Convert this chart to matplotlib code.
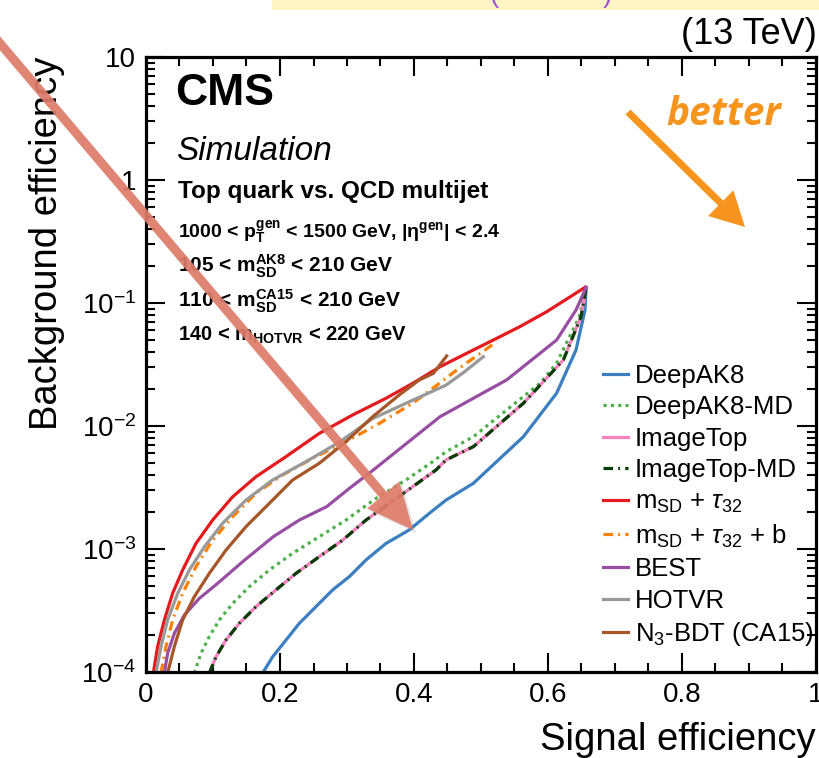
import matplotlib
matplotlib.use("Agg")
import matplotlib.pyplot as plt
from matplotlib.patches import FancyArrow, Rectangle
from matplotlib.transforms import IdentityTransform
from matplotlib.ticker import MultipleLocator, LogLocator, NullFormatter

plt.rcParams['font.family'] = ['Liberation Sans', 'DejaVu Sans']
plt.rcParams['mathtext.fontset'] = 'custom'
plt.rcParams['mathtext.rm'] = 'Liberation Sans'
plt.rcParams['mathtext.it'] = 'Liberation Sans:italic'
plt.rcParams['mathtext.bf'] = 'Liberation Sans:bold'

# ---------------- data (signal efficiency, background efficiency) ----------------
deepak8_x = [0.1741, 0.189, 0.209, 0.2289, 0.2537, 0.2786, 0.3035, 0.3284, 0.3582, 0.393, 0.4229, 0.4478,
             0.4886, 0.5632, 0.6129, 0.6418, 0.6552, 0.657]
deepak8_y = [9.8e-5, 1.33e-4, 1.82e-4, 2.49e-4, 3.4e-4, 4.65e-4, 5.96e-4, 8.15e-4, 1.11e-3, 1.43e-3, 1.95e-3, 2.5e-3,
             3.42e-3, 8.18e-3, 1.85e-2, 4.15e-2, 8.77e-2, 0.134]

deepak8md_x = [0.0721, 0.0821, 0.0945, 0.1095, 0.1294, 0.1542, 0.1841, 0.2189, 0.2587, 0.2985, 0.3433, 0.388,
               0.4279, 0.4478, 0.4886, 0.5383, 0.588, 0.6129, 0.6468, 0.657]
deepak8md_y = [9.8e-5, 1.42e-4, 1.94e-4, 2.65e-4, 3.61e-4, 4.94e-4, 6.75e-4, 9.23e-4, 1.26e-3, 1.72e-3, 2.58e-3, 3.64e-3,
               5.13e-3, 6.18e-3, 8.18e-3, 1.35e-2, 2.22e-2, 3.24e-2, 7.74e-2, 0.134]

imagetop_x = [0.0945, 0.1045, 0.1194, 0.1393, 0.1642, 0.194, 0.2239, 0.2587, 0.2935, 0.3284, 0.3632, 0.398,
              0.4328, 0.4478, 0.4886, 0.5632, 0.6229, 0.6493, 0.657]
imagetop_y = [9.8e-5, 1.33e-4, 1.82e-4, 2.49e-4, 3.4e-4, 4.65e-4, 6.34e-4, 8.67e-4, 1.18e-3, 1.72e-3, 2.35e-3, 3.21e-3,
              4.39e-3, 5.3e-3, 6.79e-3, 1.53e-2, 3.44e-2, 7.74e-2, 0.134]

imagetopmd_x = [0.0945, 0.1045, 0.1194, 0.1393, 0.1642, 0.194, 0.2239, 0.2587, 0.2935, 0.3284, 0.3632, 0.398,
                0.4328, 0.4478, 0.4886, 0.5632, 0.6229, 0.6493, 0.657]
imagetopmd_y = [9.8e-5, 1.33e-4, 1.82e-4, 2.49e-4, 3.4e-4, 4.65e-4, 6.34e-4, 8.67e-4, 1.18e-3, 1.72e-3, 2.35e-3, 3.21e-3,
                4.39e-3, 5.3e-3, 6.79e-3, 1.53e-2, 3.44e-2, 7.74e-2, 0.134]

msdtau_x = [0.0109, 0.0174, 0.0274, 0.0398, 0.0547, 0.0746, 0.0995, 0.1294, 0.1642, 0.209, 0.2587, 0.3085,
            0.3582, 0.398, 0.4388, 0.4786, 0.5184, 0.5582, 0.598, 0.6328, 0.6552]
msdtau_y = [9.8e-5, 1.61e-4, 2.65e-4, 4.37e-4, 6.75e-4, 1.11e-3, 1.72e-3, 2.66e-3, 3.87e-3, 5.64e-3, 8.71e-3, 1.23e-2,
            1.68e-2, 2.22e-2, 3.03e-2, 3.9e-2, 5.0e-2, 6.43e-2, 8.49e-2, 0.112, 0.134]

msdtaub_x = [0.0224, 0.0299, 0.0398, 0.0547, 0.0746, 0.0995, 0.1294, 0.1642, 0.204, 0.2488, 0.2985, 0.3483,
             0.398, 0.4378, 0.4637, 0.5233]
msdtaub_y = [9.8e-5, 1.61e-4, 2.65e-4, 4.37e-4, 7.18e-4, 1.18e-3, 1.83e-3, 2.84e-3, 4.0e-3, 5.46e-3, 7.46e-3, 1.05e-2,
             1.53e-2, 2.22e-2, 2.85e-2, 4.84e-2]

best_x = [0.0274, 0.0323, 0.0423, 0.0572, 0.0796, 0.107, 0.1443, 0.19, 0.2289, 0.2697, 0.3035, 0.3393,
          0.389, 0.4388, 0.4886, 0.5383, 0.6129, 0.6418, 0.657]
best_y = [9.8e-5, 1.42e-4, 2.06e-4, 2.9e-4, 3.97e-4, 5.26e-4, 7.89e-4, 1.26e-3, 1.72e-3, 2.21e-3, 3.11e-3, 4.39e-3,
          7.23e-3, 1.19e-2, 1.68e-2, 2.37e-2, 5.0e-2, 8.77e-2, 0.134]

hotvr_x = [0.0149, 0.0224, 0.0323, 0.0473, 0.0647, 0.0871, 0.1144, 0.1493, 0.189, 0.2388, 0.2886, 0.3383,
           0.388, 0.4478, 0.475, 0.5035]
hotvr_y = [9.8e-5, 1.61e-4, 2.65e-4, 4.37e-4, 6.75e-4, 1.04e-3, 1.62e-3, 2.5e-3, 3.64e-3, 5.13e-3, 7.4e-3, 1.15e-2,
           1.53e-2, 2.15e-2, 2.75e-2, 3.66e-2]

n3bdt_x = [0.0323, 0.0423, 0.0547, 0.0721, 0.0945, 0.1194, 0.1493, 0.1841, 0.2189, 0.2587, 0.2985, 0.3383,
           0.3781, 0.408, 0.4289, 0.4488]
n3bdt_y = [9.8e-5, 1.61e-4, 2.65e-4, 4.09e-4, 6.34e-4, 9.8e-4, 1.52e-3, 2.35e-3, 3.64e-3, 4.98e-3, 7.46e-3, 1.19e-2,
           1.79e-2, 2.37e-2, 2.68e-2, 3.71e-2]

labels = ['DeepAK8', 'DeepAK8-MD', 'ImageTop', 'ImageTop-MD',
          r'm$_{\rm SD}$ + $\tau_{32}$', r'm$_{\rm SD}$ + $\tau_{32}$ + b',
          'BEST', 'HOTVR', r'N$_{3}$-BDT (CA15)']

xtick_major = [0, 0.2, 0.4, 0.6, 0.8, 1]
xtick_labels = ['0', '0.2', '0.4', '0.6', '0.8', '1']
ytick_major = [1e-4, 1e-3, 1e-2, 1e-1, 1, 10]
ytick_labels = [r'$10^{-4}$', r'$10^{-3}$', r'$10^{-2}$', r'$10^{-1}$', '1', '10']

# ---------------- figure ----------------
W, H = 820, 758
fig = plt.figure(figsize=(W / 100, H / 100), dpi=100)
ax = fig.add_axes([146 / W, 1 - 672 / H, (816 - 146) / W, (672 - 57) / H])

lw = 2.3
series = [
    (deepak8_x, deepak8_y, dict(color='#3b7fc0', ls='-')),
    (deepak8md_x, deepak8md_y, dict(color='#4daf4a', ls=(0, (1, 1.3)))),
    (imagetop_x, imagetop_y, dict(color='#f781bf', ls='-')),
    (imagetopmd_x, imagetopmd_y, dict(color='#053d05', ls=(0, (3, 1.6, 0.6, 1.6)))),
    (msdtau_x, msdtau_y, dict(color='#e41a1c', ls='-')),
    (msdtaub_x, msdtaub_y, dict(color='#ff7f00', ls=(0, (3, 1.6, 0.6, 1.6)))),
    (best_x, best_y, dict(color='#984ea3', ls='-')),
    (hotvr_x, hotvr_y, dict(color='#999999', ls='-')),
    (n3bdt_x, n3bdt_y, dict(color='#a65628', ls='-')),
]
for (xs, ys, st), lab in zip(series, labels):
    ax.plot(xs, ys, lw=lw, label=lab, solid_joinstyle='round', **st)

ax.set_xlim(0, 1)
ax.set_yscale('log')
ax.set_ylim(1e-4, 10)
ax.set_xticks(xtick_major)
ax.set_xticklabels(xtick_labels)
ax.xaxis.set_minor_locator(MultipleLocator(0.05))
ax.set_yticks(ytick_major)
ax.set_yticklabels(ytick_labels)
ax.yaxis.set_minor_locator(LogLocator(base=10, subs=range(2, 10), numticks=20))
ax.yaxis.set_minor_formatter(NullFormatter())
ax.tick_params(which='both', direction='in', top=True, right=True, labelsize=20, width=1.5, pad=7)
ax.tick_params(which='major', length=14)
ax.tick_params(which='minor', length=6.5)
for s in ax.spines.values():
    s.set_linewidth(2.3)

ax.set_xlabel('Signal efficiency', fontsize=27.5, loc='right', labelpad=10)
ax.set_ylabel('Background efficiency', fontsize=27.5, loc='top', labelpad=12)

leg = ax.legend(loc='upper left', bbox_to_anchor=(603 / W, 1 - 364 / H),
                bbox_transform=fig.transFigure, frameon=False, fontsize=18.5,
                handlelength=0.98, handletextpad=0.25, labelspacing=0.29,
                borderpad=0, borderaxespad=0)

# ---------------- texts ----------------
def fy(py):
    return 1 - py / H

fig.text(175 / W, fy(105), 'CMS', fontsize=32, fontweight='bold', va='baseline')
fig.text(176 / W, fy(160), 'Simulation', fontsize=24, style='italic', va='baseline')
fig.text(178 / W, fy(198), 'Top quark vs. QCD multijet', fontsize=17.5, fontweight='bold', va='baseline')
fig.text(178 / W, fy(238), r'1000 < $\mathbf{p_{T}^{gen}}$ < 1500 GeV, |$\mathbf{\eta^{gen}}$| < 2.4',
         fontsize=14, fontweight='bold', va='baseline')
fig.text(178 / W, fy(272), r'105 < $\mathbf{m_{SD}^{AK8}}$ < 210 GeV', fontsize=15, fontweight='bold', va='baseline')
fig.text(178 / W, fy(307), r'110 < $\mathbf{m_{SD}^{CA15}}$ < 210 GeV', fontsize=15, fontweight='bold', va='baseline')
fig.text(178 / W, fy(341), r'140 < $\mathbf{m_{HOTVR}}$ < 220 GeV', fontsize=14.5, fontweight='bold', va='baseline')

fig.text(817 / W, fy(44), '(13 TeV)', fontsize=26, ha='right', va='baseline')

# yellow banner at top (partially visible title)
fig.patches.append(Rectangle((272, H - 10), W - 272, 10, transform=IdentityTransform(),
                             facecolor='#fff5c4', edgecolor='none', zorder=0))
fig.text(489 / W, fy(2), '(', fontsize=20, color='#9b55d8', va='baseline')
fig.text(603 / W, fy(2), ')', fontsize=20, color='#9b55d8', va='baseline')

# "better" arrow
fig.text(724 / W, fy(125), 'better', fontsize=28, fontweight='bold', style='italic',
         family=['Open Sans', 'DejaVu Sans'], color='#f7941d', ha='center', va='baseline')
fig.patches.append(FancyArrow(628, H - 112, 745 - 628, -(227 - 112), width=7, head_width=36,
                              head_length=34, length_includes_head=True,
                              transform=IdentityTransform(), color='#f7941d', lw=0, zorder=10))

# big red annotation arrow
fig.patches.append(FancyArrow(-8 + 3, H - 34 - 3, 421, -(530 - 34), width=9, head_width=42,
                              head_length=46, length_includes_head=True,
                              transform=IdentityTransform(), color='#888888', alpha=0.22,
                              lw=0, zorder=19))
fig.patches.append(FancyArrow(-8, H - 34, 421, -(530 - 34), width=9, head_width=42,
                              head_length=46, length_includes_head=True,
                              transform=IdentityTransform(), color='#e07a68', alpha=0.9,
                              lw=0, zorder=20))

fig.savefig('out.png', dpi=100)
